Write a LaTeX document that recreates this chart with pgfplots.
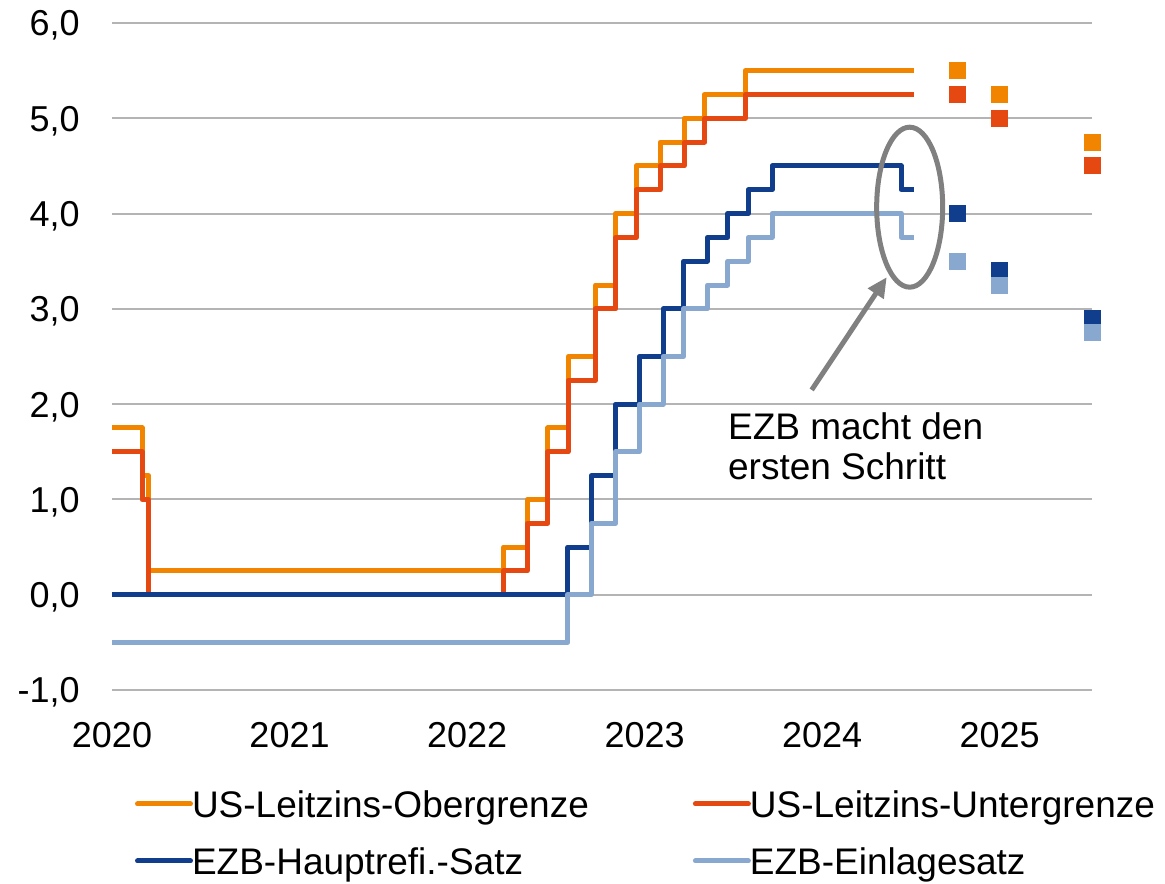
\documentclass[border=0pt]{standalone}
\usepackage{pgfplots}
\pgfplotsset{compat=1.18}
\usepackage{pgfplotstable}
\usepackage{fontspec}
\setmainfont{Liberation Sans}
\usetikzlibrary{arrows.meta}
\definecolor{cOr}{HTML}{F28500}
\definecolor{cRd}{HTML}{E64812}
\definecolor{cDb}{HTML}{103D8C}
\definecolor{cLb}{HTML}{88A8D0}
\definecolor{cGrid}{HTML}{B4B4B4}
\definecolor{cAnn}{HTML}{808080}

\pgfplotstableread{
x y
2020.000 1.75
2020.169 1.25
2020.205 0.25
2022.205 0.50
2022.340 1.00
2022.455 1.75
2022.570 2.50
2022.723 3.25
2022.838 4.00
2022.953 4.50
2023.088 4.75
2023.222 5.00
2023.337 5.25
2023.567 5.50
2024.520 5.50
}\usupper
\pgfplotstableread{
x y
2020.000 1.50
2020.169 1.00
2020.205 0.00
2022.205 0.25
2022.340 0.75
2022.455 1.50
2022.570 2.25
2022.723 3.00
2022.838 3.75
2022.953 4.25
2023.088 4.50
2023.222 4.75
2023.337 5.00
2023.567 5.25
2024.520 5.25
}\uslower
\pgfplotstableread{
x y
2020.000 0.00
2022.567 0.50
2022.699 1.25
2022.836 2.00
2022.970 2.50
2023.104 3.00
2023.219 3.50
2023.353 3.75
2023.468 4.00
2023.584 4.25
2023.718 4.50
2024.445 4.25
2024.520 4.25
}\ecbmro
\pgfplotstableread{
x y
2020.000 -0.50
2022.567 0.00
2022.699 0.75
2022.836 1.50
2022.970 2.00
2023.104 2.50
2023.219 3.00
2023.353 3.25
2023.468 3.50
2023.584 3.75
2023.718 4.00
2024.445 3.75
2024.520 3.75
}\ecbdep

\begin{document}
\begin{tikzpicture}
\useasboundingbox (-56pt,-96.5pt) rectangle (526.5pt,345pt);
\begin{axis}[
  scale only axis, width=490pt, height=333.5pt,
  xmin=2020, xmax=2025.52, ymin=-1, ymax=6,
  xtick={2020,2021,2022,2023,2024,2025},
  xticklabels={2020,2021,2022,2023,2024,2025},
  ytick={-1,0,1,2,3,4,5,6},
  ymajorgrids, grid style={draw=cGrid, line width=1pt},
  axis line style={draw=none}, major tick length=0pt,
  clip=false,
  /pgf/number format/assume math mode=true,
  yticklabel={\pgfmathprintnumber[fixed, fixed zerofill, precision=1, use comma, assume math mode=true]{\tick}},
  yticklabel style={anchor=east, inner sep=0pt, xshift=-16pt, text height=12.9pt, text depth=0pt, font=\fontsize{18}{20}\selectfont},
  xticklabel style={anchor=north, inner sep=0pt, yshift=-16pt, font=\fontsize{18}{20}\selectfont},
  legend columns=2,
  legend style={at={(0.0235,-0.1529)}, anchor=north west, draw=none, fill=none,
    inner sep=0pt, outer sep=0pt,
    font=\fontsize{18.5}{20}\selectfont,
    nodes={inner sep=0pt, text height=13pt, text depth=4pt, anchor=base west},
    row sep=11.5pt,
    /tikz/every even column/.append style={column sep=52pt},
    /tikz/every odd column/.append style={column sep=-0.5pt}},
  legend image code/.code={\draw[#1, line width=2.5pt, line cap=round] (0pt,7pt) -- (26.5pt,7pt);},
  every axis plot/.append style={line width=2.5pt, line join=round},
]
\addplot[cOr, const plot] table {\usupper};
\addlegendentry{US-Leitzins-Obergrenze}
\addplot[cRd, const plot] table {\uslower};
\addlegendentry{US-Leitzins-Untergrenze}
\addplot[cDb, const plot] table {\ecbmro};
\addlegendentry{EZB-Hauptrefi.-Satz}
\addplot[cLb, const plot] table {\ecbdep};
\addlegendentry{EZB-Einlagesatz}

\addplot[forget plot, only marks, mark=square*, mark size=4pt, color=cOr, mark options={line width=0pt}] coordinates {(2024.76,5.5) (2025.0,5.25) (2025.52,4.75)};
\addplot[forget plot, only marks, mark=square*, mark size=4pt, color=cRd, mark options={line width=0pt}] coordinates {(2024.76,5.25) (2025.0,5.0) (2025.52,4.5)};
\addplot[forget plot, only marks, mark=square*, mark size=4pt, color=cDb, mark options={line width=0pt}] coordinates {(2024.76,4.0) (2025.0,3.4) (2025.52,2.9)};
\addplot[forget plot, only marks, mark=square*, mark size=4pt, color=cLb, mark options={line width=0pt}] coordinates {(2024.76,3.5) (2025.0,3.25) (2025.52,2.75)};

\draw[cAnn, line width=2.5pt] (axis cs:2024.493,4.067) ellipse [x radius=16.5pt, y radius=40pt];
\draw[cAnn, line width=2.5pt, -{Triangle[length=10pt, width=9pt]}] (axis cs:2023.941,2.149) -- (axis cs:2024.364,3.333);
\node[anchor=base west, inner sep=0pt, font=\fontsize{18.5}{20}\selectfont] at (axis cs:2023.468,1.625) {EZB macht den};
\node[anchor=base west, inner sep=0pt, font=\fontsize{18.5}{20}\selectfont] at (axis cs:2023.468,1.205) {ersten Schritt};
\end{axis}
\end{tikzpicture}
\end{document}
